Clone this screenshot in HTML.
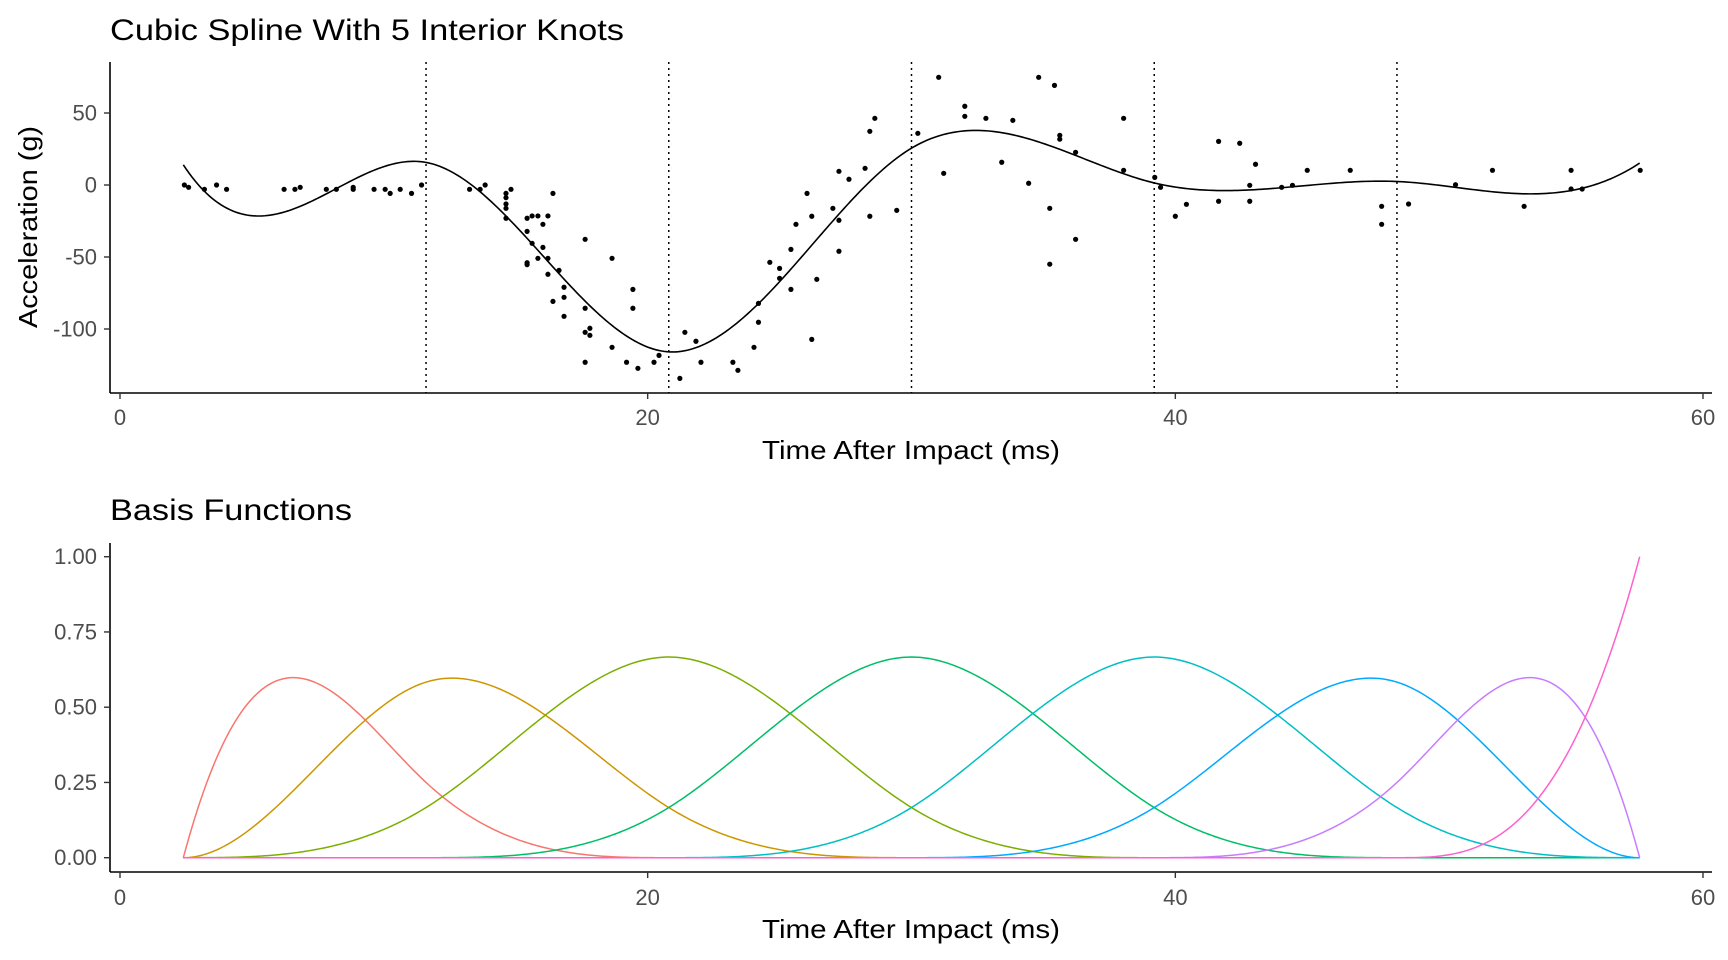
<!DOCTYPE html>
<html><head><meta charset="utf-8">
<style>
html,body{margin:0;padding:0;background:#fff;}
svg{display:block;font-family:"Liberation Sans",Arial,sans-serif;}
</style></head>
<body>
<svg id="chart" width="1728" height="960" viewBox="0 0 1728 960">
  <g id="topPanel"></g>
  <g id="botPanel"></g>
</svg>
<script>
const times=[2.44,2.6,3.2,3.66,4.04,6.22,6.63,6.83,7.82,8.2,8.84,8.84,9.63,10.05,10.24,10.62,11.05,11.43,13.25,13.65,13.84,
14.63,14.63,14.63,14.63,14.63,14.82,16.41,15.43,15.62,15.84,16.22,16.03,15.43,15.62,16.03,15.84,16.22,15.43,15.43,16.22,16.64,
17.63,16.83,16.83,16.41,16.83,17.63,18.65,19.44,19.44,17.63,17.81,17.81,18.65,17.63,19.2,19.63,20.24,20.43,21.22,21.41,21.83,
22.02,23.23,23.42,24.03,24.2,24.2,24.63,25.0,25.0,25.43,25.43,25.62,26.04,26.22,26.22,26.41,27.02,27.25,27.25,27.25,27.63,
28.24,28.42,28.42,28.61,29.44,30.24,31.03,31.22,32.02,32.02,32.82,33.42,33.84,34.44,34.82,35.42,35.24,35.24,35.62,35.62,
36.22,36.22,38.04,38.04,39.22,39.44,40.0,40.42,41.64,41.64,42.44,42.82,42.82,43.04,44.03,44.44,45.0,46.63,
47.82,47.82,48.84,50.62,52.02,53.22,55.0,55.0,55.42,57.62];
const accel=[0,-1.6,-3,0,-3,-3,-3,-1.6,-3,-3,-1.6,-3,-3,-3,-5.8,-3,-5.8,0,-3,-3,0,
-5.8,-8.8,-13.2,-16.2,-23.1,-3,-5.8,-23.1,-21.5,-21.5,-21.5,-27.3,-32.2,-40.5,-43.3,-50.9,-50.9,-54,-55.3,-62,-59.3,
-37.7,-71,-78,-80.8,-91.2,-85.6,-50.9,-72.5,-85.6,-102.3,-99.5,-104.4,-112.7,-123.1,-123.1,-127.3,-123.1,-118.3,-134.3,-102.3,-108.5,
-123.1,-123.1,-128.7,-112.7,-95.3,-82.2,-53.7,-57.9,-64.8,-72.5,-44.7,-27.3,-5.8,-21.7,-107.2,-65.5,-16.2,-24.5,-46,9.5,4,
11.6,-21.7,37.3,46.3,-17.6,35.9,74.8,8.1,54.7,47.7,46.3,15.8,44.9,1.2,74.8,69.2,-16.2,-55,34.5,31.8,
22.7,-37.7,46.3,10.2,5.3,-1.6,-21.7,-13.4,30.3,-11.3,29,-0.2,-11.3,14.4,-1.6,-0.2,10.2,10.2,
-14.8,-27.3,-13.2,0.2,10.2,-14.8,10.2,-2.8,-2.8,10.2];
const interiorKnots=[11.6,20.8,30.0,39.2,48.4];
const boundary=[2.4,57.6];
const xTicks=[0,20,40,60];
const yTicksTop=[-100,-50,0,50];
const yTickLabelsTop=["-100","-50","0","50"];
const yTicksBot=[0,0.25,0.5,0.75,1];
const yTickLabelsBot=["0.00","0.25","0.50","0.75","1.00"];
const basisColors=["#F8766D","#CD9600","#7CAE00","#00BE67","#00BFC4","#00A9FF","#C77CFF","#FF61CC"];

const NS="http://www.w3.org/2000/svg";
function mk(parent,tag,attrs){const e=document.createElementNS(NS,tag);for(const k in attrs)e.setAttribute(k,attrs[k]);parent.appendChild(e);return e;}
const X=v=>120+v*(1703-120)/60;
const YT=v=>185-v*1.44;
const YB=v=>857.7-v*301;

const T=[boundary[0],boundary[0],boundary[0],boundary[0],...interiorKnots,boundary[1],boundary[1],boundary[1],boundary[1]];
const NB=T.length-4;
function basis(x){
  let n=T.length-1,B=new Array(n).fill(0);
  for(let i=0;i<n;i++){ if((x>=T[i]&&x<T[i+1])||(x===T[T.length-1]&&T[i]<T[i+1]&&T[i+1]===x)) B[i]=1; }
  for(let d=1;d<=3;d++){const nb=new Array(n-d).fill(0);
    for(let i=0;i<n-d;i++){let v=0;
      if(T[i+d]>T[i]) v+=(x-T[i])/(T[i+d]-T[i])*B[i];
      if(T[i+d+1]>T[i+1]) v+=(T[i+d+1]-x)/(T[i+d+1]-T[i+1])*B[i+1];
      nb[i]=v;}
    B=nb;}
  return B.slice(0,NB);
}
const A=[],bv=[];for(let i=0;i<NB;i++){A.push(new Array(NB).fill(0));bv.push(0);}
times.forEach((t,k)=>{const B=basis(Math.min(Math.max(t,boundary[0]),boundary[1]));for(let i=0;i<NB;i++){bv[i]+=B[i]*accel[k];for(let j=0;j<NB;j++)A[i][j]+=B[i]*B[j];}});
for(let i=0;i<NB;i++){let p=i;for(let r=i+1;r<NB;r++)if(Math.abs(A[r][i])>Math.abs(A[p][i]))p=r;[A[i],A[p]]=[A[p],A[i]];[bv[i],bv[p]]=[bv[p],bv[i]];
  for(let r=0;r<NB;r++){if(r===i)continue;const f=A[r][i]/A[i][i];for(let c=i;c<NB;c++)A[r][c]-=f*A[i][c];bv[r]-=f*bv[i];}}
const coef=bv.map((v,i)=>v/A[i][i]);

function panel(g,yTop,yBottom,yTicks,yLabels,Y,title,titleLen,titleY,xTitleY,tickY){
  mk(g,'line',{x1:110,y1:yTop,x2:110,y2:yBottom,stroke:'#000','stroke-width':1.6,});
  mk(g,'line',{x1:110,y1:yBottom,x2:1712,y2:yBottom,stroke:'#000','stroke-width':1.6,});
  yTicks.forEach((v,i)=>{
    const tk=mk(g,'line',{x1:104,x2:110,y1:Y(v),y2:Y(v),stroke:'#333','stroke-width':1.4});
    
    
    const t=mk(g,'text',{x:97,y:Y(v)+7.5,'text-anchor':'end','font-size':22,fill:'#4d4d4d'});
    
    
    t.textContent=yLabels[i];
  });
  xTicks.forEach(v=>{
    const tk=mk(g,'line',{x1:X(v),x2:X(v),y1:yBottom,y2:yBottom+6,stroke:'#333','stroke-width':1.4});
    
    
    const t=mk(g,'text',{x:X(v),y:tickY,'text-anchor':'middle','font-size':22,fill:'#4d4d4d'});
    
    
    t.textContent=v;
  });
  const tt=mk(g,'text',{x:110,y:titleY,'font-size':30,fill:'#000',textLength:titleLen,lengthAdjust:'spacingAndGlyphs'});
  
  
  tt.textContent=title;
  const xt=mk(g,'text',{x:911,y:xTitleY,'text-anchor':'middle','font-size':26,fill:'#000',textLength:298,lengthAdjust:'spacingAndGlyphs'});
  
  
  xt.textContent='Time After Impact (ms)';
}
const topG=document.getElementById('topPanel'),botG=document.getElementById('botPanel');
panel(topG,62,393,yTicksTop,yTickLabelsTop,YT,'Cubic Spline With 5 Interior Knots',514,40,459,425);
panel(botG,543,872,yTicksBot,yTickLabelsBot,YB,'Basis Functions',242,520,938,905);
const yt=mk(topG,'text',{x:0,y:0,'text-anchor':'middle','font-size':26,fill:'#000',textLength:202,lengthAdjust:'spacingAndGlyphs',transform:'translate(37,227) rotate(-90)'});


yt.textContent='Acceleration (g)';

interiorKnots.forEach(k=>{
  const l=mk(topG,'line',{x1:X(k),x2:X(k),y1:62,y2:393,stroke:'#000','stroke-width':1.5,'stroke-dasharray':'2 4'});
  
  
});
times.forEach((t,i)=>{
  const c=mk(topG,'circle',{cx:X(t),cy:YT(accel[i]),r:2.6,fill:'#000'});
  
  
});
const N=500,grid=[];for(let i=0;i<=N;i++)grid.push(boundary[0]+(boundary[1]-boundary[0])*i/N);
let d='';grid.forEach((x,i)=>{const B=basis(x);let s=0;for(let j=0;j<NB;j++)s+=coef[j]*B[j];d+=(i?'L':'M')+X(x).toFixed(2)+','+YT(s).toFixed(2);});
const fl=mk(topG,'path',{d:d,fill:'none',stroke:'#000','stroke-width':1.6});


const Bg=grid.map(basis);
basisColors.forEach((col,j)=>{
  let p='';grid.forEach((x,i)=>{p+=(i?'L':'M')+X(x).toFixed(2)+','+YB(Bg[i][j+1]).toFixed(2);});
  const e=mk(botG,'path',{d:p,fill:'none',stroke:col,'stroke-width':1.5});
  
  
});
</script>
</body></html>
